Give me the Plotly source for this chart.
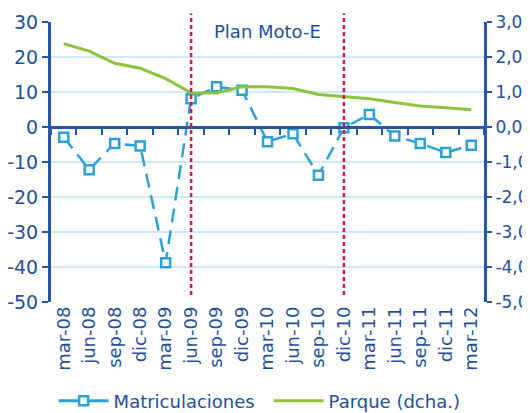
import plotly.graph_objects as go

periods = ["mar-08", "jun-08", "sep-08", "dic-08", "mar-09", "jun-09", "sep-09", "dic-09",
           "mar-10", "jun-10", "sep-10", "dic-10", "mar-11", "jun-11", "sep-11", "dic-11", "mar-12"]
matriculaciones = [-2.9, -12.2, -4.7, -5.4, -38.8, 8.1, 11.5, 10.5,
                   -4.2, -1.9, -13.8, -0.2, 3.6, -2.6, -4.7, -7.3, -5.2]
parque = [2.38, 2.17, 1.82, 1.68, 1.38, 0.98, 0.97, 1.15,
          1.15, 1.10, 0.93, 0.87, 0.81, 0.70, 0.60, 0.55, 0.49]
plan_start = "jun-09"
plan_end = "dic-10"
left_ticks = [30, 20, 10, 0, -10, -20, -30, -40, -50]
left_labels = ["30", "20", "10", "0", "-10", "-20", "-30", "-40", "-50"]
right_ticks = [3.0, 2.0, 1.0, 0.0, -1.0, -2.0, -3.0, -4.0, -5.0]
right_labels = ["3,0", "2,0", "1,0", "0,0", "-1,0", "-2,0", "-3,0", "-4,0", "-5,0"]

AXIS = "#2456a4"
TEXT = "#1f4f9e"
BLUE = "#2ba1da"
GREEN = "#8cc43c"
RED = "#d4145a"
GRID = "#cfeaf6"
FONT = "DejaVu Sans"

fig = go.Figure()
fig.add_trace(go.Scatter(
    x=periods, y=matriculaciones, name="Matriculaciones", mode="lines+markers",
    line=dict(color=BLUE, width=2.5, dash="14px,8px"),
    marker=dict(symbol="square", size=9, color="white", line=dict(color=BLUE, width=2.5)),
    yaxis="y", xaxis="x", showlegend=False))
fig.add_trace(go.Scatter(
    x=periods, y=parque, name="Parque (dcha.)", mode="lines",
    line=dict(color=GREEN, width=3), yaxis="y2", xaxis="x", showlegend=False))
# legend entries (solid line samples like the reference)
fig.add_trace(go.Scatter(
    x=[None], y=[None], name="Matriculaciones", mode="lines+markers",
    line=dict(color=BLUE, width=3),
    marker=dict(symbol="square", size=9, color="white", line=dict(color=BLUE, width=2.5))))
fig.add_trace(go.Scatter(
    x=[None], y=[None], name="Parque (dcha.)", mode="lines",
    line=dict(color=GREEN, width=3)))
# invisible trace to activate xaxis2 (zero-line axis with boundary ticks)
fig.add_trace(go.Scatter(x=periods, y=[None] * len(periods), xaxis="x2", yaxis="y",
                         showlegend=False, hoverinfo="skip"))

for p in (plan_start, plan_end):
    fig.add_shape(type="line", xref="x", yref="paper", x0=p, x1=p, y0=0.025, y1=1.03,
                  line=dict(color=RED, width=2.5, dash="4px,3px"), layer="above")

fig.add_annotation(x="mar-10", y=27.3, xref="x", yref="y", text="Plan Moto-E",
                   showarrow=False, font=dict(family=FONT, size=18, color=TEXT))

fig.update_layout(
    width=522, height=405, separators=",.",
    margin=dict(l=43, r=46, t=14, b=111, autoexpand=False),
    plot_bgcolor="white", paper_bgcolor="white",
    font=dict(family=FONT, color=TEXT),
    showlegend=True,
    legend=dict(orientation="h", x=0.006, xanchor="left", y=-0.354, yanchor="middle",
                font=dict(size=18, color=TEXT), itemwidth=50, tracegroupgap=0,
                entrywidth=150, entrywidthmode="pixels",
                bgcolor="rgba(0,0,0,0)"),
    xaxis=dict(type="category", categoryorder="array", categoryarray=periods,
               tickangle=-90, tickfont=dict(size=18, color=TEXT), showgrid=False,
               showline=False, ticks="", range=[-0.5, 16.5], automargin=False),
    xaxis2=dict(type="category", categoryorder="array", categoryarray=periods,
                overlaying="x", anchor="free", position=0.625, side="bottom",
                showline=True, linecolor=AXIS, linewidth=3, ticks="outside",
                tickson="boundaries", ticklen=6, tickwidth=2, tickcolor=AXIS,
                showticklabels=False, showgrid=False, range=[-0.5, 16.5]),
    yaxis=dict(range=[-50, 30], tickvals=left_ticks, ticktext=left_labels,
               showgrid=True, gridcolor=GRID, gridwidth=1.5,
               showline=True, linecolor=AXIS, linewidth=3, ticks="outside", ticklen=6,
               tickwidth=2, tickcolor=AXIS, tickfont=dict(size=19, color=TEXT),
               zeroline=False, automargin=False),
    yaxis2=dict(range=[-5, 3], tickvals=right_ticks, ticktext=right_labels,
                overlaying="y", side="right",
                showgrid=False, showline=True, linecolor=AXIS, linewidth=3,
                ticks="outside", ticklen=5, tickwidth=2, tickcolor=AXIS,
                tickfont=dict(size=17, color=TEXT), zeroline=False, automargin=False),
)

fig.write_html("out.html")
